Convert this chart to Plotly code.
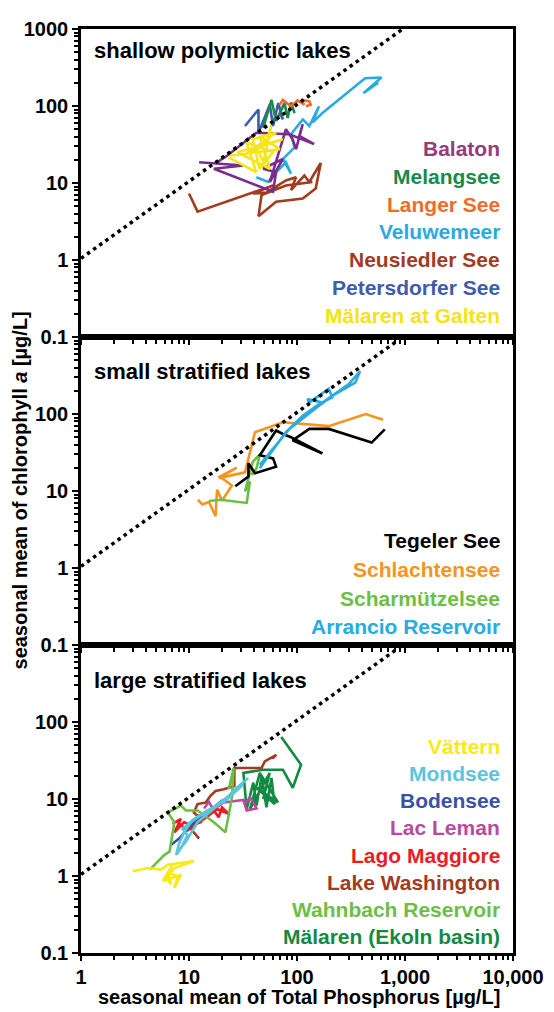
import plotly.graph_objects as go
from plotly.subplots import make_subplots

# ---------------- data (TP µg/L, chlorophyll a µg/L) ----------------
x_tickvals = [1, 10, 100, 1000, 10000]
x_ticktext = ["1", "10", "100", "1,000", "10,000"]
y_tickvals_top = [0.1, 1, 10, 100, 1000]
y_ticktext_top = ["0.1", "1", "10", "100", "1000"]
y_tickvals = [0.1, 1, 10, 100]
y_ticktext = ["0.1", "1", "10", "100"]

ref_line_x = [1, 10000]
ref_line_y = [1.05, 10500]

# panel 1: shallow polymictic lakes
neusiedler_tp = [10, 12, 60, 39, 52, 79, 98, 88, 117, 130, 166, 149, 113, 64, 44, 47, 79, 139]
neusiedler_chl = [7.3, 4.25, 9.3, 7.3, 7.5, 10.8, 11.9, 8.1, 12.5, 10.3, 18.2, 8.5, 6.3, 5.7, 3.7, 7.0, 9.3, 10.3]
veluwemeer_tp = [42, 54, 64, 79, 88, 74, 95, 88, 113, 130, 160, 139, 172, 427, 606, 412, 565]
veluwemeer_chl = [11.9, 10.3, 13.8, 18.6, 13.2, 20.5, 29, 43, 67, 55, 99, 61, 81, 229, 235, 147, 201]
balaton_tp = [12.4, 31.9, 17, 60, 64, 48.6, 74, 56, 79, 91, 98, 113, 105, 144, 85, 42, 22.5, 18.2]
balaton_chl = [18.6, 16.9, 15.3, 7.7, 13.8, 15.3, 20.5, 10.3, 50, 37, 27.5, 58, 41, 32, 43, 45, 22.6, 18.6]
galten_tp = [23.3, 42, 34, 60, 45, 39, 64, 32, 52, 58, 49, 42, 74, 28, 56, 45, 69, 24]
galten_chl = [21.5, 13.8, 33.6, 25, 15.3, 37, 45, 22.6, 33.6, 57, 18.6, 29, 37, 25, 15.3, 41, 27.5, 22.6]
petersdorfer_tp = [33, 44, 44, 56, 60, 67, 74, 70]
petersdorfer_chl = [55, 90, 45, 104, 55, 109, 67, 80]
melangsee_tp = [48.6, 58, 64, 76.6, 82, 88, 95]
melangsee_chl = [52, 120, 64, 109, 70, 111, 81]
langer_tp = [69, 74, 88, 101, 117, 109, 130, 134, 121]
langer_chl = [104, 120, 99, 118, 104, 120, 115, 104, 99]

# panel 2: small stratified lakes
schlachten_tp = [12.1, 13.3, 15.3, 17.6, 18.2, 20.2, 25, 19.3, 27.7, 18.9, 33, 40.8, 74, 197, 433, 627]
schlachten_chl = [7.7, 6.7, 7.2, 4.7, 10.4, 7.5, 11.8, 15.4, 20.1, 14.7, 17.5, 58, 78, 69.5, 100, 84]
scharm_tp = [15.3, 19.5, 34.2, 36.7, 33, 39, 45.3, 42.2, 38]
scharm_chl = [7.4, 7.7, 7.0, 13.3, 9.9, 24, 29.8, 19.7, 16.2]
tegeler_tp = [26.8, 35.5, 35.5, 40.8, 64, 60, 45.3, 64, 74, 88, 172, 91, 130, 197, 491, 650]
tegeler_chl = [11.5, 15.4, 22.9, 17, 20.7, 26.5, 29.2, 61, 55, 50, 30.7, 45.5, 64, 64, 42.5, 63]
arrancio_tp = [45.3, 60, 48.6, 79, 113, 160, 212, 197, 130, 125, 172, 300, 358, 384, 346, 212, 160, 85, 45.3]
arrancio_chl = [19.7, 35.6, 22.9, 58, 95, 134, 164, 213, 141, 156, 141, 243, 326, 359, 255, 172, 128, 64, 21.8]

# panel 3: large stratified lakes
ekoln_tp = [71.5, 109, 91.4, 74, 48.6, 31.9, 34.2, 39.4, 42.2, 47, 52.1, 58, 62, 42.2, 66.6, 45.3, 36.7, 55.9, 48.6]
ekoln_chl = [64, 27.9, 14, 24, 24, 21.8, 7.4, 16.3, 8.2, 19.8, 7.8, 18.8, 8.6, 14, 9.0, 21.8, 7.4, 21.8, 9.95]
washington_tp = [12.4, 10.4, 12.8, 11.1, 12, 14.3, 15.8, 17.6, 21, 26.3, 26.3, 47, 50.3, 64.3, 60]
washington_chl = [3.06, 4.1, 5.5, 6.7, 8.6, 9.0, 11, 12.7, 13.4, 14.7, 25.3, 25.3, 30.8, 37.4, 34]
leman_tp = [13.8, 15.3, 16.8, 21, 31.9, 34.2, 42.2, 36.7, 33]
leman_chl = [7.55, 9.2, 7.3, 9.0, 9.7, 7.1, 7.55, 10.5, 8.6]
maggiore_tp = [7.05, 8.42, 7.32, 9.03, 10.4, 12.8, 12, 14.8, 17, 18.8, 20.2, 23.3, 18.2, 13.8, 9.69, 7.85]
maggiore_chl = [4.75, 5.5, 3.7, 5.0, 4.5, 5.0, 6.1, 5.8, 7.1, 5.8, 7.8, 6.4, 7.4, 5.5, 3.9, 5.0]
bodensee_tp = [6.8, 8.1, 9.7, 12, 17, 20.2, 22.5, 18.8]
bodensee_chl = [2.52, 3.06, 4.1, 5.5, 7.8, 9.5, 10.1, 8.6]
wahnbach_tp = [4.33, 5.15, 5.93, 6.6, 7.32, 6.36, 8.42, 9.35, 12, 17, 21.7, 23.3, 25, 25.9, 23.3]
wahnbach_chl = [1.21, 1.54, 1.88, 2.07, 5.0, 6.7, 8.2, 7.1, 7.1, 5.0, 3.7, 6.1, 10.5, 25.3, 13.4]
mondsee_tp = [35.4, 27.7, 22.5, 17, 12.8, 10.4, 9.03, 8.1, 7.6, 8.42, 9.69, 8.7, 11.1, 14.8, 21, 31.9, 12, 9.35, 7.85]
mondsee_chl = [18.8, 14, 10.5, 7.8, 6.1, 5.0, 3.7, 2.65, 1.88, 2.28, 3.4, 4.1, 5.5, 7.1, 9.0, 15.5, 5.0, 2.78, 2.07]
vattern_tp = [3.0, 3.5, 4.18, 5.53, 6.36, 11.1, 7.32, 6.15, 6.82, 6.36, 7.85, 7.32, 8.42, 5.73, 7.05]
vattern_chl = [1.15, 1.2, 1.27, 1.21, 1.40, 1.57, 1.27, 0.94, 0.78, 1.1, 0.99, 0.70, 1.04, 0.86, 1.40]

panel_titles = ["shallow polymictic lakes", "small stratified lakes", "large stratified lakes"]
x_title = "seasonal mean of Total Phosphorus [µg/L]"
y_title = "seasonal mean of chlorophyll <i>a</i> [µg/L]"

# (row, name, tp, chl, line colour, label colour)
series = [
    (1, "Neusiedler See", neusiedler_tp, neusiedler_chl, "#A23B1F", "#A23B1F"),
    (1, "Veluwemeer", veluwemeer_tp, veluwemeer_chl, "#29ABE2", "#29ABE2"),
    (1, "Balaton", balaton_tp, balaton_chl, "#7B2D8E", "#983A7E"),
    (1, "Mälaren at Galten", galten_tp, galten_chl, "#F5E61B", "#F2E31A"),
    (1, "Petersdorfer See", petersdorfer_tp, petersdorfer_chl, "#3F5BA9", "#3F5BA9"),
    (1, "Melangsee", melangsee_tp, melangsee_chl, "#1A8A4A", "#1A8A4A"),
    (1, "Langer See", langer_tp, langer_chl, "#F26B2A", "#F26B2A"),
    (2, "Schlachtensee", schlachten_tp, schlachten_chl, "#F7941D", "#F7941D"),
    (2, "Scharmützelsee", scharm_tp, scharm_chl, "#6DBE45", "#6DBE45"),
    (2, "Tegeler See", tegeler_tp, tegeler_chl, "#000000", "#000000"),
    (2, "Arrancio Reservoir", arrancio_tp, arrancio_chl, "#29ABE2", "#29ABE2"),
    (3, "Mälaren (Ekoln basin)", ekoln_tp, ekoln_chl, "#138A42", "#138A42"),
    (3, "Lake Washington", washington_tp, washington_chl, "#A23B1F", "#A23B1F"),
    (3, "Lac Leman", leman_tp, leman_chl, "#B84BA0", "#B84BA0"),
    (3, "Lago Maggiore", maggiore_tp, maggiore_chl, "#ED1C24", "#ED1C24"),
    (3, "Bodensee", bodensee_tp, bodensee_chl, "#3953A4", "#3953A4"),
    (3, "Wahnbach Reservoir", wahnbach_tp, wahnbach_chl, "#6DBE45", "#6DBE45"),
    (3, "Mondsee", mondsee_tp, mondsee_chl, "#5BC5DB", "#5BC5DB"),
    (3, "Vättern", vattern_tp, vattern_chl, "#F7EB12", "#F7EB12"),
]

legend_order = {
    1: ["Balaton", "Melangsee", "Langer See", "Veluwemeer", "Neusiedler See",
        "Petersdorfer See", "Mälaren at Galten"],
    2: ["Tegeler See", "Schlachtensee", "Scharmützelsee", "Arrancio Reservoir"],
    3: ["Vättern", "Mondsee", "Bodensee", "Lac Leman", "Lago Maggiore",
        "Lake Washington", "Wahnbach Reservoir", "Mälaren (Ekoln basin)"],
}

# ---------------- layout geometry ----------------
# the page body adds an 8px offset; the figure is sized so that the plot
# area lands close to where the reference has it (page px 81..520 x 15..953)
OFF = 8
W, H = 546, 1004
PLOT_TOP = 18          # page px (slightly lower than 15 so the "1000" label is not clipped)
PLOT_BOTTOM = 953      # page px
ML = 81 - OFF
MT = PLOT_TOP - OFF
PW = 439
PH = PLOT_BOTTOM - PLOT_TOP
MR = W - ML - PW
MB = H - MT - PH
FONT = "Liberation Sans, Arial, Helvetica, sans-serif"


def px_x(p):
    return (p - OFF - ML) / PW


def px_y(p):
    return 1 - (p - OFF - MT) / PH


fig = make_subplots(rows=3, cols=1, shared_xaxes=True, vertical_spacing=0)

for row, name, tp, chl, lc, tc in series:
    fig.add_trace(go.Scatter(x=tp, y=chl, mode="lines", name=name,
                             line=dict(color=lc, width=2.6), showlegend=False,
                             hoverinfo="skip"), row=row, col=1)

for row in (1, 2, 3):
    fig.add_trace(go.Scatter(x=ref_line_x, y=ref_line_y, mode="lines",
                             line=dict(color="black", width=3.5, dash="3.5px,4px"),
                             showlegend=False, hoverinfo="skip"), row=row, col=1)

x_minor = [m * 10 ** d for d in range(0, 4) for m in range(2, 10)]
y_minor = [round(m * 10 ** d, 6) for d in range(-1, 3) for m in range(2, 10)]

tickfont = dict(family=FONT, size=20, color="black", weight="bold")

for row in (1, 2, 3):
    fig.update_xaxes(type="log", range=[0, 4], showline=True, linecolor="black",
                     linewidth=2.5, mirror=True, ticks="outside", ticklen=5,
                     tickwidth=2, tickcolor="black", tickvals=x_tickvals,
                     ticktext=x_ticktext, showgrid=False, zeroline=False,
                     showticklabels=(row == 3), tickfont=tickfont,
                     ticklabelstandoff=-1,
                     minor=dict(ticks="outside", ticklen=4, tickwidth=1.5,
                                tickcolor="black", tickvals=x_minor, showgrid=False),
                     row=row, col=1)
    fig.update_yaxes(type="log", range=[-1, 3], showline=True, linecolor="black",
                     linewidth=2.5, mirror=True, ticks="outside", ticklen=6,
                     tickwidth=2, tickcolor="black",
                     tickvals=y_tickvals_top if row == 1 else y_tickvals,
                     ticktext=y_ticktext_top if row == 1 else y_ticktext,
                     showgrid=False, zeroline=False, tickfont=tickfont,
                     minor=dict(ticks="outside", ticklen=4, tickwidth=1.5,
                                tickcolor="black", tickvals=y_minor, showgrid=False),
                     row=row, col=1)

annotations = []
title_y = [40, 365, 677]
legend_start = {1: 139, 2: 536, 3: 744}
legend_step = {1: 28.1, 2: 29, 3: 27.5}
label_color = {s[1]: s[5] for s in series}

for i, t in enumerate(panel_titles):
    annotations.append(dict(text=t, x=px_x(92), y=px_y(title_y[i]), xref="paper",
                            yref="paper", xanchor="left", yanchor="middle",
                            showarrow=False,
                            font=dict(family=FONT, size=22, color="black", weight="bold")))

for row, names in legend_order.items():
    for k, nm in enumerate(names):
        annotations.append(dict(text=nm, x=px_x(509),
                                y=px_y(legend_start[row] + k * legend_step[row]),
                                xref="paper", yref="paper", xanchor="right",
                                yanchor="middle", showarrow=False,
                                font=dict(family=FONT, size=21, color=label_color[nm],
                                          weight="bold")))

annotations.append(dict(text=x_title, x=px_x(303), y=px_y(998), xref="paper",
                        yref="paper", xanchor="center", yanchor="middle",
                        showarrow=False,
                        font=dict(family=FONT, size=20, color="black", weight="bold")))
annotations.append(dict(text=y_title, x=px_x(19), y=px_y(485), xref="paper",
                        yref="paper", xanchor="center", yanchor="middle",
                        textangle=-90, showarrow=False,
                        font=dict(family=FONT, size=20, color="black", weight="bold")))

fig.update_layout(width=W, height=H, margin=dict(l=ML, r=MR, t=MT, b=MB),
                  plot_bgcolor="white", paper_bgcolor="white",
                  showlegend=False, annotations=annotations)

fig.write_html("out.html")
